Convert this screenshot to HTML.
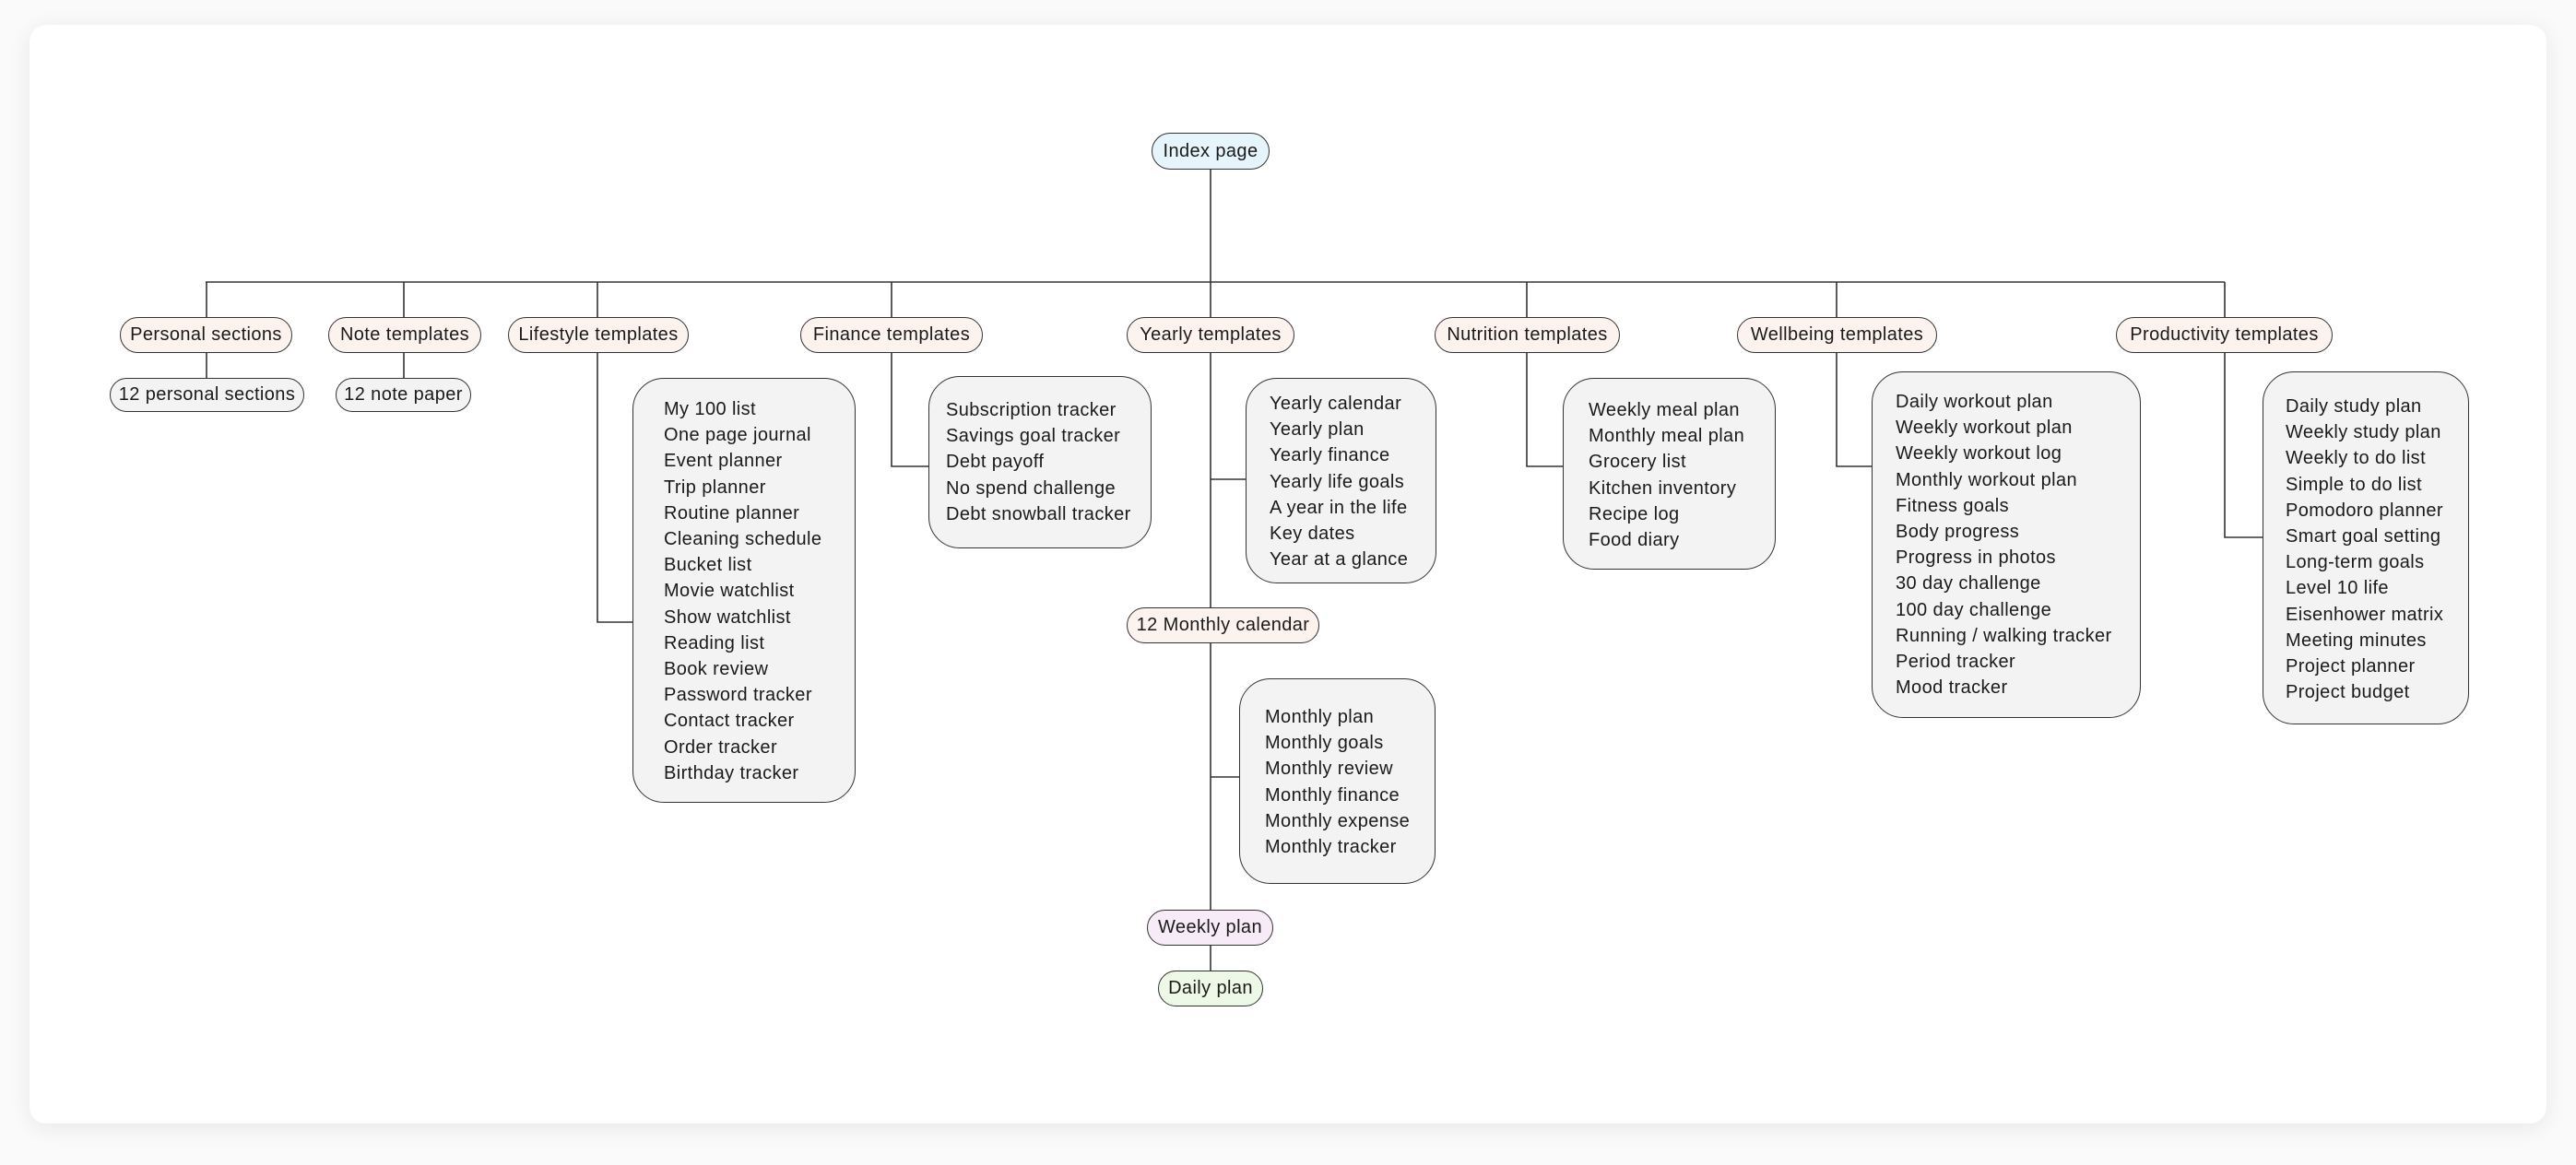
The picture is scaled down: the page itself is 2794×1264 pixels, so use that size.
<!DOCTYPE html>
<html><head><meta charset="utf-8"><style>
html,body{margin:0;padding:0;background:#fafafa;}
body{width:2794px;height:1264px;position:relative;overflow:hidden;font-family:"Liberation Sans",sans-serif;color:#1a1a1a;}
.card{position:absolute;left:32px;top:27px;width:2730px;height:1192px;background:#fff;border-radius:18px;box-shadow:0 4px 24px rgba(0,0,0,0.08);}
.p{position:absolute;box-sizing:border-box;border:1.6px solid #333;border-radius:22px;display:flex;align-items:center;justify-content:center;font-size:20px;white-space:nowrap;letter-spacing:0.4px;}
.peach{background:#fdf3ee;}
.grey{background:#f3f3f3;}
.b{position:absolute;box-sizing:border-box;border:1.6px solid #333;border-radius:34px;background:#f3f3f3;font-size:20px;line-height:28.2px;white-space:nowrap;letter-spacing:0.4px;}
.b div{position:absolute;}
svg{position:absolute;left:0;top:0;}
</style></head><body>
<div class="card"></div>
<svg width="2794" height="1264" stroke="#333" stroke-width="1.6" fill="none">
<line x1="1313" y1="184" x2="1313" y2="1053"/>
<line x1="223" y1="306" x2="2413" y2="306"/>
<line x1="224" y1="306" x2="224" y2="410"/>
<line x1="438" y1="306" x2="438" y2="410"/>
<polyline points="648,306 648,675 686,675"/>
<polyline points="967,306 967,506 1007,506"/>
<line x1="1313" y1="520" x2="1351" y2="520"/>
<line x1="1313" y1="843" x2="1344" y2="843"/>
<polyline points="1656,306 1656,506 1695,506"/>
<polyline points="1992,306 1992,506 2030,506"/>
<polyline points="2413,306 2413,583 2454,583"/>
</svg>
<div class="p" style="left:1249px;top:144px;width:128px;height:40px;background:#e6f4fb;">Index page</div>

<div class="p peach" style="left:130px;top:344px;width:187px;height:39px;">Personal sections</div>
<div class="p peach" style="left:356px;top:344px;width:166px;height:39px;">Note templates</div>
<div class="p peach" style="left:551px;top:344px;width:196px;height:39px;">Lifestyle templates</div>
<div class="p peach" style="left:868px;top:344px;width:198px;height:39px;">Finance templates</div>
<div class="p peach" style="left:1222px;top:344px;width:182px;height:39px;">Yearly templates</div>
<div class="p peach" style="left:1556px;top:344px;width:201px;height:39px;">Nutrition templates</div>
<div class="p peach" style="left:1884px;top:344px;width:217px;height:39px;">Wellbeing templates</div>
<div class="p peach" style="left:2295px;top:344px;width:235px;height:39px;">Productivity templates</div>

<div class="p grey" style="left:119px;top:410px;width:211px;height:37px;">12 personal sections</div>
<div class="p grey" style="left:364px;top:410px;width:147px;height:37px;">12 note paper</div>

<div class="p peach" style="left:1222px;top:659px;width:209px;height:39px;">12 Monthly calendar</div>
<div class="p" style="left:1244px;top:987px;width:137px;height:39px;background:#f8ebf8;">Weekly plan</div>
<div class="p" style="left:1256px;top:1053px;width:114px;height:39px;background:#eef8e6;">Daily plan</div>

<div class="b" style="left:686px;top:410px;width:242px;height:461px;"><div style="left:33px;top:19px;">My 100 list<br>One page journal<br>Event planner<br>Trip planner<br>Routine planner<br>Cleaning schedule<br>Bucket list<br>Movie watchlist<br>Show watchlist<br>Reading list<br>Book review<br>Password tracker<br>Contact tracker<br>Order tracker<br>Birthday tracker</div></div>

<div class="b" style="left:1007px;top:408px;width:242px;height:187px;"><div style="left:18px;top:22px;">Subscription tracker<br>Savings goal tracker<br>Debt payoff<br>No spend challenge<br>Debt snowball tracker</div></div>

<div class="b" style="left:1351px;top:410px;width:207px;height:223px;"><div style="left:25px;top:13px;">Yearly calendar<br>Yearly plan<br>Yearly finance<br>Yearly life goals<br>A year in the life<br>Key dates<br>Year at a glance</div></div>

<div class="b" style="left:1344px;top:736px;width:213px;height:223px;"><div style="left:27px;top:27px;">Monthly plan<br>Monthly goals<br>Monthly review<br>Monthly finance<br>Monthly expense<br>Monthly tracker</div></div>

<div class="b" style="left:1695px;top:410px;width:231px;height:208px;"><div style="left:27px;top:20px;">Weekly meal plan<br>Monthly meal plan<br>Grocery list<br>Kitchen inventory<br>Recipe log<br>Food diary</div></div>

<div class="b" style="left:2030px;top:403px;width:292px;height:376px;"><div style="left:25px;top:18px;">Daily workout plan<br>Weekly workout plan<br>Weekly workout log<br>Monthly workout plan<br>Fitness goals<br>Body progress<br>Progress in photos<br>30 day challenge<br>100 day challenge<br>Running / walking tracker<br>Period tracker<br>Mood tracker</div></div>

<div class="b" style="left:2454px;top:403px;width:224px;height:383px;"><div style="left:24px;top:23px;">Daily study plan<br>Weekly study plan<br>Weekly to do list<br>Simple to do list<br>Pomodoro planner<br>Smart goal setting<br>Long-term goals<br>Level 10 life<br>Eisenhower matrix<br>Meeting minutes<br>Project planner<br>Project budget</div></div>
</body></html>
